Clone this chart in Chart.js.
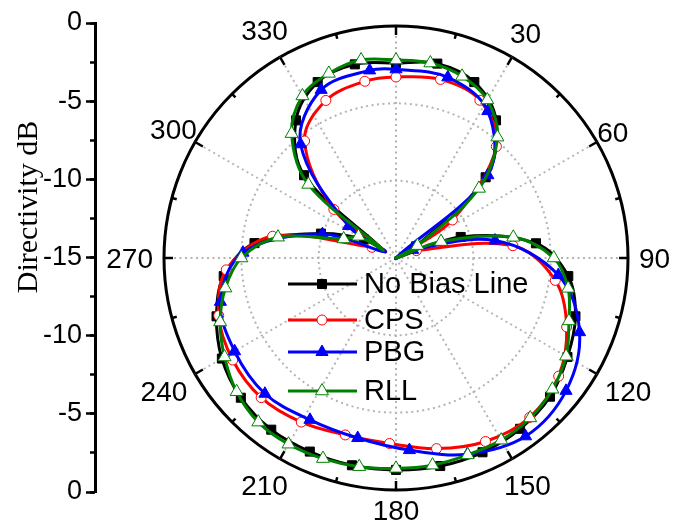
<!DOCTYPE html>
<html>
<head>
<meta charset="utf-8">
<script src="https://cdn.jsdelivr.net/npm/chart.js@4"></script>
<style>
  body { margin: 0; background: #fff; }
  #wrap { position: relative; width: 674px; height: 532px; }
  #wrap canvas { position: absolute; left: 0; top: 0; }
</style>
</head>
<body>
<div id="wrap">
  <canvas id="polarChart" width="674" height="532"></canvas>
  <canvas id="axisChart" width="674" height="532"></canvas>
</div>
<script>
// angle grid (degrees, clockwise from top), 2 degree steps
const angles = Array.from({ length: 180 }, (_, i) => i * 2);
const angleTicks = [30, 60, 90, 120, 150, 180, 210, 240, 270, 300, 330];

// No Bias Line - marker every 12 deg (62 / 302 are the nulls)
const noBiasAngles = [0, 12, 24, 36, 48, 60, 62, 72, 84, 96, 108, 120, 132, 144, 156, 168, 180,
  192, 204, 216, 228, 240, 252, 264, 276, 288, 300, 302, 312, 324, 336, 348];
const noBiasValues = [-2.4, -2.15, -2.55, -4.0, -7.2, -13.5, -15, -10.6, -5.9, -3.8, -2.8, -2.2, -1.6, -1.35, -1.25, -1.25, -1.3,
  -1.3, -1.3, -1.28, -1.5, -2.0, -2.8, -3.8, -5.8, -9.9, -12.6, -14.0, -7.0, -4.0, -2.55, -2.2];

// CPS - marker every 14 deg
const cpsAngles = [0, 14, 28, 42, 56, 62, 70, 84, 98, 112, 126, 140, 154, 168, 182,
  196, 210, 224, 238, 252, 266, 280, 294, 302, 308, 322, 336, 350];
const cpsValues = [-3.3, -3.1, -3.45, -5.3, -10.6, -15, -13.6, -7.4, -4.6, -3.1, -2.0, -1.55, -1.8, -2.4, -3.0,
  -3.1, -2.75, -2.45, -2.55, -2.95, -4.0, -6.9, -13.3, -14.2, -9.9, -5.4, -3.85, -3.4];

// PBG - marker every 16 deg
const pbgAngles = [0, 16, 32, 48, 60, 64, 80, 96, 112, 128, 144, 160, 176,
  192, 208, 224, 240, 256, 272, 288, 300, 304, 320, 336, 352];
const pbgValues = [-2.8, -2.85, -3.8, -7.0, -15, -13.8, -8.5, -4.45, -2.2, -1.05, -0.75, -1.5, -2.55,
  -3.1, -3.15, -2.8, -2.95, -3.3, -5.1, -10.0, -14.2, -11.3, -5.4, -3.1, -2.75];

// RLL - marker every 10 deg
const rllAngles = [0, 10, 20, 30, 40, 50, 60, 62, 70, 80, 90, 100, 110, 120, 130, 140, 150, 160, 170, 180,
  190, 200, 210, 220, 230, 240, 250, 260, 270, 280, 290, 300, 302, 310, 320, 330, 340, 350];
const rllValues = [-2.2, -2.2, -2.5, -3.2, -4.8, -8.0, -13.4, -15, -11.9, -7.3, -4.8, -3.7, -3.1, -2.3, -1.8, -1.5, -1.4, -1.45, -1.4, -1.4,
  -1.3, -1.2, -1.1, -1.15, -1.55, -2.2, -2.9, -3.8, -5.0, -7.25, -11.4, -12.2, -14.0, -7.6, -4.5, -2.9, -2.3, -2.0];

const SANS = "'Liberation Sans', Arial, sans-serif";
const SERIF = "'Liberation Serif', 'Times New Roman', serif";
const GRID_GREY = "#b4b4b4";

function toSeries(a, v) {
  return angles.map((deg) => {
    const k = a.indexOf(deg);
    return k < 0 ? null : v[k];
  });
}

function makeDataset(label, a, v, step, color, style, size, fillColor, order) {
  return {
    label: label,
    data: toSeries(a, v),
    order: order,
    borderColor: color,
    borderWidth: 3,
    backgroundColor: "transparent",
    fill: false,
    tension: 0.35,
    spanGaps: true,
    pointStyle: style,
    pointRadius: (c) => (angles[c.dataIndex] % step === 0 ? size : 0),
    pointHoverRadius: (c) => (angles[c.dataIndex] % step === 0 ? size : 0),
    pointBackgroundColor: fillColor,
    pointBorderColor: color,
    pointBorderWidth: 1,
    markerSize: size,
  };
}

function drawMarker(ctx, style, x, y, r) {
  ctx.beginPath();
  if (style === "rect") {
    const s = r * Math.SQRT1_2;
    ctx.rect(x - s, y - s, 2 * s, 2 * s);
  } else if (style === "triangle") {
    for (let k = 0; k < 3; k++) {
      const a = (k * 2 * Math.PI) / 3;
      ctx.lineTo(x + Math.sin(a) * r, y - Math.cos(a) * r);
    }
    ctx.closePath();
  } else {
    ctx.arc(x, y, r, 0, Math.PI * 2);
  }
  ctx.fill();
  ctx.stroke();
}

// ticks on the outer circle
const circleTicks = {
  id: "circleTicks",
  beforeDatasetsDraw(chart) {
    const s = chart.scales.r;
    const ctx = chart.ctx;
    ctx.save();
    ctx.strokeStyle = "#000";
    ctx.lineWidth = 2.5;
    for (let deg = 0; deg < 360; deg += 15) {
      const len = deg % 30 === 0 ? 9 : 5;
      const a = ((deg - 90) * Math.PI) / 180;
      ctx.beginPath();
      ctx.moveTo(s.xCenter + Math.cos(a) * (s.drawingArea - len), s.yCenter + Math.sin(a) * (s.drawingArea - len));
      ctx.lineTo(s.xCenter + Math.cos(a) * s.drawingArea, s.yCenter + Math.sin(a) * s.drawingArea);
      ctx.stroke();
    }
    ctx.restore();
  },
};

// angle labels round the circle + Origin-style legend
const polarDecor = {
  id: "polarDecor",
  afterDraw(chart) {
    const s = chart.scales.r;
    const ctx = chart.ctx;
    ctx.save();
    ctx.fillStyle = "#000";
    ctx.font = "28px " + SANS;
    ctx.textAlign = "center";
    ctx.textBaseline = "alphabetic";
    angleTicks.forEach((deg) => {
      const txt = String(deg);
      const m = ctx.measureText(txt);
      const w = m.width;
      const h = m.actualBoundingBoxAscent;
      const a = ((deg - 90) * Math.PI) / 180;
      const gap = deg === 60 || deg === 300 ? 0 : 11;
      const d = s.drawingArea + gap + Math.abs(Math.cos(a)) * w / 2 + Math.abs(Math.sin(a)) * h / 2;
      const x = s.xCenter + Math.cos(a) * d;
      const y = s.yCenter + Math.sin(a) * d;
      ctx.fillText(txt, x, y + h / 2);
    });

    // legend
    const rows = [284, 320, 352, 391];
    ctx.font = "29px " + SANS;
    ctx.textAlign = "left";
    ctx.textBaseline = "middle";
    chart.data.datasets.forEach((ds, i) => {
      const y = rows[i];
      ctx.strokeStyle = ds.borderColor;
      ctx.lineWidth = 3;
      ctx.beginPath();
      ctx.moveTo(288, y);
      ctx.lineTo(357, y);
      ctx.stroke();
      ctx.fillStyle = ds.pointBackgroundColor;
      ctx.lineWidth = 1;
      drawMarker(ctx, ds.pointStyle, 322, y, ds.markerSize);
      ctx.fillStyle = "#000";
      ctx.fillText(ds.label, 364, y + 1);
    });
    ctx.restore();
  },
};

new Chart(document.getElementById("polarChart"), {
  type: "radar",
  data: {
    labels: angles,
    datasets: [
      makeDataset("No Bias Line", noBiasAngles, noBiasValues, 12, "#000000", "rect", 6.4, "#000000", 4),
      makeDataset("CPS", cpsAngles, cpsValues, 14, "#ff0000", "circle", 5, "#ffffff", 3),
      makeDataset("PBG", pbgAngles, pbgValues, 16, "#0000ff", "triangle", 7, "#0000ff", 2),
      makeDataset("RLL", rllAngles, rllValues, 10, "#008000", "triangle", 7.5, "#ffffff", 1),
    ],
  },
  options: {
    responsive: false,
    animation: false,
    events: [],
    layout: { padding: { left: 164, right: 46, top: 26, bottom: 42 } },
    plugins: { legend: { display: false }, tooltip: { enabled: false } },
    scales: {
      r: {
        min: -15,
        max: 0,
        ticks: { display: false, stepSize: 5 },
        pointLabels: { display: false },
        grid: {
          circular: true,
          color: (c) => (c.tick && c.tick.value === 0 ? "#000" : GRID_GREY),
          lineWidth: (c) => (c.tick && c.tick.value === 0 ? 3 : 2),
        },
        border: { dash: (c) => (c.tick && c.tick.value === 0 ? [] : [2, 3.5]) },
        angleLines: {
          color: GRID_GREY,
          lineWidth: (c) => (angles[c.index] % 30 === 0 ? 2 : 0),
          borderDash: [2, 3.5],
        },
      },
    },
  },
  plugins: [circleTicks, polarDecor],
});

// left axis: 0 at the rim, -15 at the centre, 0 at the rim
const axisTitle = {
  id: "axisTitle",
  afterDraw(chart) {
    const ctx = chart.ctx;
    ctx.save();
    ctx.translate(29, 207);
    ctx.rotate(-Math.PI / 2);
    ctx.fillStyle = "#000";
    ctx.font = "30px " + SERIF;
    ctx.textAlign = "center";
    ctx.textBaseline = "middle";
    ctx.fillText("Directivity dB", 0, 0);
    ctx.restore();
  },
};

new Chart(document.getElementById("axisChart"), {
  type: "scatter",
  data: { datasets: [] },
  options: {
    responsive: false,
    animation: false,
    events: [],
    layout: { padding: { left: 0, right: 0, top: 23, bottom: 40 } },
    plugins: { legend: { display: false }, tooltip: { enabled: false } },
    scales: {
      x: { display: false, min: 0, max: 1 },
      y: {
        position: "left",
        weight: 1,
        min: 0,
        max: 30,
        afterFit: (s) => { s.width = 95; },
        ticks: {
          stepSize: 5,
          autoSkip: false,
          color: "#000",
          padding: 4,
          font: { family: SANS, size: 27 },
          callback: (v) => String(Math.abs(v - 15) - 15),
        },
        grid: { drawOnChartArea: false, drawTicks: true, tickLength: 9, tickWidth: 2.5, tickColor: "#000" },
        border: { display: true, color: "#000", width: 3 },
      },
      yMinor: {
        axis: "y",
        position: "left",
        weight: 0,
        min: 0,
        max: 30,
        afterFit: (s) => { s.width = 0; },
        ticks: { stepSize: 2.5, autoSkip: false, display: false },
        grid: { drawOnChartArea: false, drawTicks: true, tickLength: 5, tickWidth: 2.5, tickColor: "#000" },
        border: { display: false },
      },
    },
  },
  plugins: [axisTitle],
});
</script>
</body>
</html>
